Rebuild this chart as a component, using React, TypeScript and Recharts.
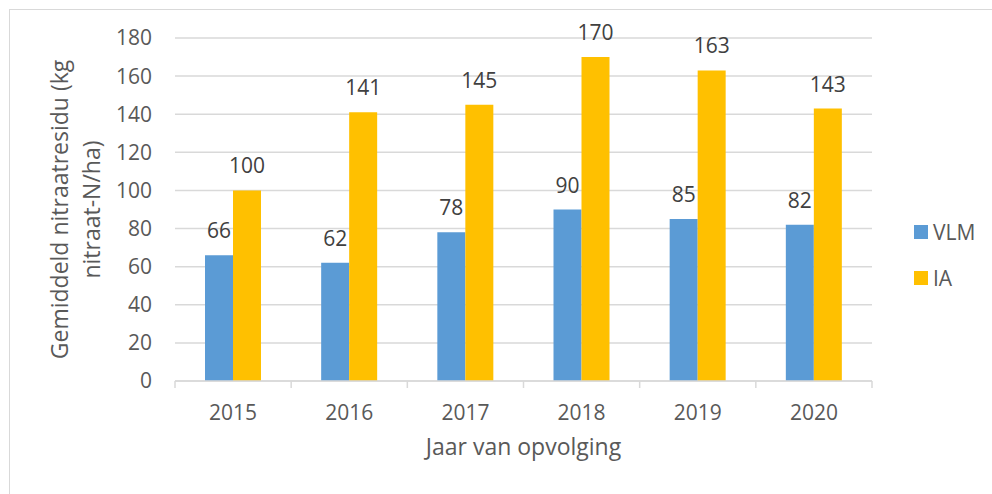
import React from 'react';
import { BarChart, Bar, XAxis, YAxis, CartesianGrid, LabelList, Legend } from 'recharts';

const categories = ['2015', '2016', '2017', '2018', '2019', '2020'];
const vlmValues = [66, 62, 78, 90, 85, 82];
const iaValues = [100, 141, 145, 170, 163, 143];
const yTicks = [0, 20, 40, 60, 80, 100, 120, 140, 160, 180];

const data = categories.map((c, i) => ({ year: c, VLM: vlmValues[i], IA: iaValues[i] }));

const FONT = '"Open Sans", "Noto Sans", sans-serif';
const BLUE = '#5B9BD5';
const YELLOW = '#FFC000';
const GRID = '#D9D9D9';
const TICK = '#595959';

const XTick = (props: any) => {
  const { x, y, payload, index } = props;
  const half = payload && typeof payload.offset === 'number' ? payload.offset : 0;
  const isLast = index === categories.length - 1;
  return (
    <g>
      <line x1={x - half} x2={x - half} y1={y} y2={y + 7} stroke={GRID} strokeWidth={1.5} />
      {isLast && <line x1={x + half} x2={x + half} y1={y} y2={y + 7} stroke={GRID} strokeWidth={1.5} />}
      <text x={x} y={y + 39} textAnchor="middle" fill={TICK} fontSize={21} fontFamily={FONT}>
        {payload.value}
      </text>
    </g>
  );
};

const XTitle = (props: any) => {
  const vb = props.viewBox || {};
  return (
    <text x={vb.x + vb.width / 2} y={vb.y + 74} textAnchor="middle" fill={TICK} fontSize={23} fontFamily={FONT}>
      Jaar van opvolging
    </text>
  );
};

const YTitle = (props: any) => {
  const vb = props.viewBox || {};
  const cy = vb.y + vb.height / 2;
  return (
    <g>
      <text transform={`translate(68, ${cy}) rotate(-90)`} textAnchor="middle" fill={TICK} fontSize={23} fontFamily={FONT}>
        Gemiddeld nitraatresidu (kg
      </text>
      <text transform={`translate(100, ${cy}) rotate(-90)`} textAnchor="middle" fill={TICK} fontSize={23} fontFamily={FONT}>
        nitraat-N/ha)
      </text>
    </g>
  );
};

const LegendContent = () => {
  const items = [
    { name: 'VLM', color: BLUE },
    { name: 'IA', color: YELLOW },
  ];
  return (
    <div style={{ fontFamily: FONT }}>
      {items.map((it) => (
        <div key={it.name} style={{ display: 'flex', alignItems: 'center', height: 46 }}>
          <span style={{ display: 'inline-block', width: 14, height: 14, background: it.color, marginRight: 5 }} />
          <span style={{ fontSize: 21, color: TICK, lineHeight: '24px' }}>{it.name}</span>
        </div>
      ))}
    </div>
  );
};

export default function App() {
  return (
    <div style={{ position: 'absolute', left: 0, top: 0, width: 992, height: 494, overflow: 'hidden', background: '#fff' }}>
      <div style={{ position: 'absolute', left: 9, top: 9, width: 1000, height: 500, border: `1px solid ${GRID}` }} />
      <div style={{ position: 'absolute', left: 0, top: 0 }}>
        <BarChart width={992} height={494} data={data} margin={{ top: 38, right: 120, bottom: 33, left: 0 }} barGap={0} barSize={28}>
          <CartesianGrid vertical={false} stroke={GRID} strokeWidth={1.5} />
          <XAxis
            dataKey="year"
            height={80}
            tickLine={false}
            tickSize={0}
            tickMargin={0}
            axisLine={{ stroke: GRID, strokeWidth: 1.5 }}
            tick={<XTick />}
            interval={0}
            label={<XTitle />}
          />
          <YAxis
            width={175}
            domain={[0, 180]}
            ticks={yTicks}
            axisLine={false}
            tickLine={false}
            tickSize={0}
            tickMargin={23}
            tick={{ fill: TICK, fontSize: 21, fontFamily: FONT }}
            label={<YTitle />}
          />
          <Legend
            layout="vertical"
            align="center"
            verticalAlign="middle"
            content={<LegendContent />}
            wrapperStyle={{ left: 914, top: 209, width: 80 }}
          />
          <Bar dataKey="VLM" fill={BLUE} isAnimationActive={false}>
            <LabelList dataKey="VLM" position="top" offset={17} fill="#404040" fontSize={21} fontFamily={FONT} />
          </Bar>
          <Bar dataKey="IA" fill={YELLOW} isAnimationActive={false}>
            <LabelList dataKey="IA" position="top" offset={17} fill="#404040" fontSize={21} fontFamily={FONT} />
          </Bar>
        </BarChart>
      </div>
    </div>
  );
}
